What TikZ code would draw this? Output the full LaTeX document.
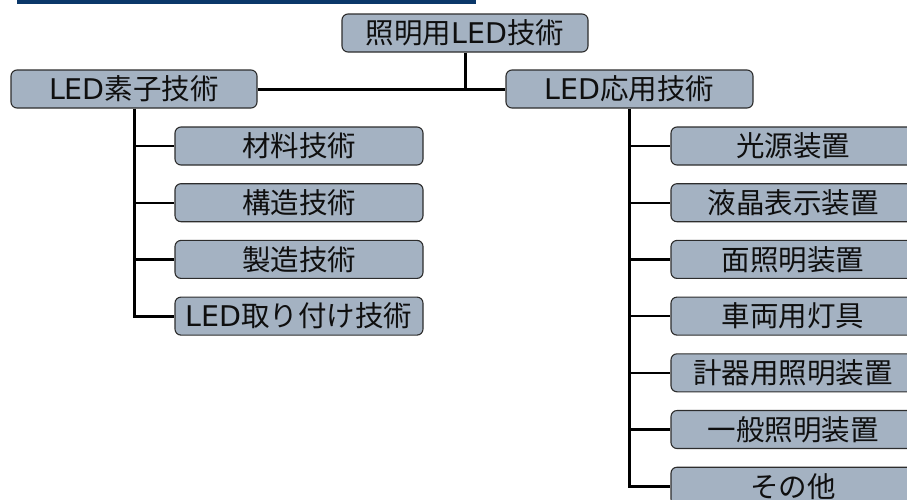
\documentclass[tikz,border=0pt]{standalone}
\usepackage{fontspec}
\setmainfont{Noto Sans CJK JP}
\newfontfamily\latfont{DejaVu Sans}
\newcommand{\LEDtxt}{{\latfont LED}}
\definecolor{navy}{RGB}{10,55,105}
\definecolor{boxfill}{RGB}{164,178,194}
\definecolor{boxline}{RGB}{45,45,45}
\definecolor{txt}{RGB}{15,15,15}
\tikzset{
  box/.style={draw=boxline, line width=1.1pt, fill=boxfill, rounded corners=6pt,
    minimum height=38pt, inner sep=0pt, text=txt, font=\fontsize{28.5}{32}\selectfont},
  topbox/.style={box, minimum width=246pt},
  leftchild/.style={box, minimum width=248pt},
  rightchild/.style={box, minimum width=244pt},
  trunk/.style={line width=3pt, black},
  branch/.style={line width=2.2pt, black}
}
\begin{document}
\begin{tikzpicture}[x=1pt,y=-1pt]
\useasboundingbox (0,0) rectangle (907,499);
\clip (0,0) rectangle (907,499);
\fill[navy] (17,0) rectangle (476,4);
% nodes
\node[topbox] (root) at (465,33) {照明用\LEDtxt 技術};
\node[topbox] (left) at (134,89) {\LEDtxt 素子技術};
\node[topbox, minimum width=247pt] (right) at (629.5,89) {\LEDtxt 応用技術};

\node[leftchild] (l1) at (299,146) {材料技術};
\node[leftchild] (l2) at (299,202.7) {構造技術};
\node[leftchild] (l3) at (299,259.4) {製造技術};
\node[leftchild] (l4) at (299,316.1) {\LEDtxt 取り付け技術};

\node[rightchild] (r1) at (793,146) {光源装置};
\node[rightchild] (r2) at (793,202.7) {液晶表示装置};
\node[rightchild] (r3) at (793,259.4) {面照明装置};
\node[rightchild] (r4) at (793,316.1) {車両用灯具};
\node[rightchild] (r5) at (793,372.8) {計器用照明装置};
\node[rightchild] (r6) at (793,429.5) {一般照明装置};
\node[rightchild] (r7) at (793,486.2) {その他};

% trunks
\draw[trunk] (left.south) -- (left.south |- l4.west) -- (l4.west);
\foreach \n in {l1,l2,l3} \draw[branch] (left.south |- \n.west) -- (\n.west);
\draw[trunk] (right.south -| 629,0) -- (629,0 |- r7.west) -- (r7.west);
\foreach \n in {r1,r2,r3,r4,r5,r6} \draw[branch] (629,0 |- \n.west) -- (\n.west);
% root link
\draw[trunk] (root.south) -- (root.south |- left.east);
\draw[trunk] (left.east) -- (right.west);
\end{tikzpicture}
\end{document}
